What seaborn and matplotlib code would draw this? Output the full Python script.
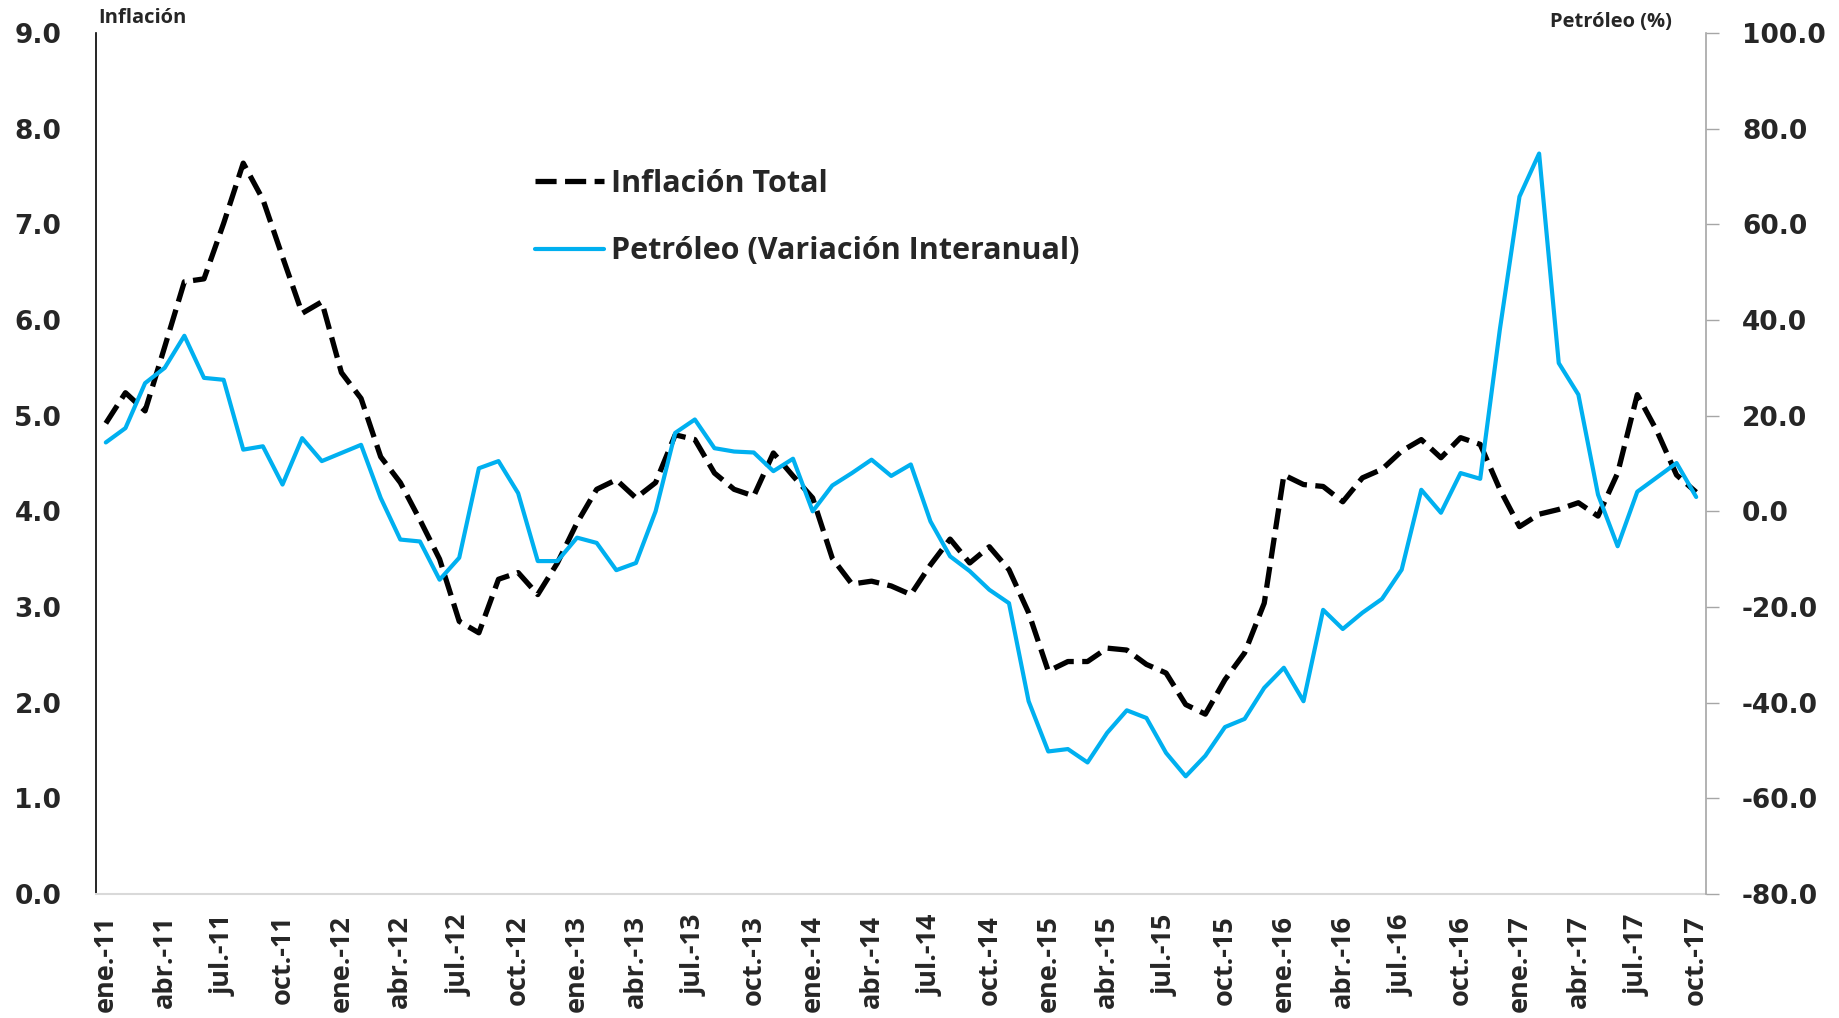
import matplotlib
matplotlib.use("Agg")
import matplotlib.pyplot as plt
import seaborn as sns
import pandas as pd
from matplotlib.lines import Line2D

# meses ene-11 .. oct-17 (82 observaciones)
mes_abrev = ["ene.", "feb.", "mar.", "abr.", "may.", "jun.",
             "jul.", "ago.", "sep.", "oct.", "nov.", "dic."]
anios = ["11", "12", "13", "14", "15", "16", "17"]
meses = [f"{m}-{a}" for a in anios for m in mes_abrev][:82]

inflacion = [4.92, 5.24, 5.05, 5.72, 6.40, 6.43, 7.01, 7.64, 7.26, 6.66,
             6.07, 6.19, 5.45, 5.18, 4.57, 4.30, 3.91, 3.50, 2.85, 2.73,
             3.29, 3.36, 3.13, 3.46, 3.88, 4.23, 4.33, 4.14, 4.30, 4.80,
             4.75, 4.40, 4.23, 4.16, 4.61, 4.37, 4.14, 3.51, 3.24, 3.27,
             3.22, 3.13, 3.44, 3.71, 3.46, 3.63, 3.39, 2.94, 2.33, 2.43,
             2.43, 2.57, 2.55, 2.40, 2.31, 1.98, 1.88, 2.24, 2.52, 3.04,
             4.38, 4.28, 4.26, 4.10, 4.35, 4.44, 4.63, 4.75, 4.56, 4.77,
             4.70, 4.23, 3.84, 3.97, 4.02, 4.09, 3.95, 4.40, 5.22, 4.84,
             4.38, 4.20]

petroleo = [14.4, 17.4, 26.8, 30.0, 36.7, 27.9, 27.5, 12.9, 13.6, 5.6,
            15.3, 10.5, 12.2, 13.9, 2.8, -5.9, -6.3, -14.3, -9.7, 9.0,
            10.5, 3.8, -10.4, -10.4, -5.5, -6.6, -12.3, -10.8, 0.0, 16.4,
            19.2, 13.2, 12.5, 12.3, 8.4, 11.0, 0.0, 5.4, 8.0, 10.8,
            7.4, 9.8, -2.1, -9.4, -12.5, -16.4, -19.2, -39.7, -50.2, -49.7,
            -52.5, -46.3, -41.6, -43.2, -50.5, -55.4, -51.1, -45.1, -43.4, -36.9,
            -32.7, -39.7, -20.6, -24.6, -21.2, -18.3, -12.2, 4.5, -0.3, 8.0,
            6.8, 38.0, 65.8, 74.8, 31.0, 24.4, 3.5, -7.3, 4.1, 7.1,
            10.1, 3.0]

ticks_izq = [0, 1, 2, 3, 4, 5, 6, 7, 8, 9]
ticks_der = [-80, -60, -40, -20, 0, 20, 40, 60, 80, 100]

AZUL = "#00B0F0"
DASH = (0, (4, 1.6))

df = pd.DataFrame({"idx": range(len(meses)), "mes": meses,
                   "inflacion": inflacion, "petroleo": petroleo})

sns.set_style("white")
plt.rcParams["font.family"] = ["DejaVu Sans"]

fig = plt.figure(figsize=(18.39, 10.18), dpi=100)
ax = fig.add_axes([96 / 1839, 1 - 894 / 1018, (1706 - 96) / 1839, (894 - 33) / 1018])
ax2 = ax.twinx()

sns.lineplot(data=df, x="idx", y="inflacion", ax=ax, color="black",
             linewidth=3.8, linestyle=DASH, dash_capstyle="butt", legend=False)
sns.lineplot(data=df, x="idx", y="petroleo", ax=ax2, color=AZUL,
             linewidth=3.0, legend=False)

ax.set_xlim(-0.5, len(meses) - 0.5)
ax.set_ylim(0, 9)
ax2.set_ylim(-80, 100)

ax.set_xticks(df["idx"][::3])
ax.set_xticklabels(df["mes"][::3], rotation=90, fontfamily="Open Sans",
                   fontweight="bold", fontsize=19.5)
ax.set_yticks(ticks_izq)
ax.set_yticklabels([f"{v:.1f}" for v in ticks_izq], fontweight="bold", fontsize=19)
ax2.set_yticks(ticks_der)
ax2.set_yticklabels([f"{v:.1f}" for v in ticks_der], fontweight="bold", fontsize=19)

ax.tick_params(axis="x", length=0, pad=15)
ax.tick_params(axis="y", length=0, pad=25)
ax2.tick_params(axis="y", length=9, width=1, color="#a6a6a6", direction="out", pad=17)

ax.set_xlabel("")
ax.set_ylabel("")
ax2.set_ylabel("")

for s in ["top", "right"]:
    ax.spines[s].set_visible(False)
ax.spines["left"].set_color("black")
ax.spines["left"].set_linewidth(1.2)
ax.spines["bottom"].set_color("#d9d9d9")
ax.spines["bottom"].set_linewidth(1.5)
for s in ["top", "left", "bottom"]:
    ax2.spines[s].set_visible(False)
ax2.spines["right"].set_color("#a6a6a6")
ax2.spines["right"].set_linewidth(1.2)

fig.text(98 / 1839, 1 - 18 / 1018, "Inflación", ha="left", va="center",
         fontfamily="Open Sans", fontweight="bold", fontsize=14.5)
fig.text(1672 / 1839, 1 - 22 / 1018, "Petróleo (%)", ha="right", va="center",
         fontfamily="Open Sans", fontweight="bold", fontsize=14.5)

handles = [Line2D([], [], color="black", linewidth=3.8, linestyle=DASH,
                  dash_capstyle="butt"),
           Line2D([], [], color=AZUL, linewidth=3.0)]
ax2.legend(handles, ["Inflación Total", "Petróleo (Variación Interanual)"],
           loc="upper left", bbox_to_anchor=(535 / 1839, 1 - 169 / 1018),
           bbox_transform=fig.transFigure, frameon=False, borderpad=0,
           borderaxespad=0, handlelength=2.25, handletextpad=0.25,
           labelspacing=1.22,
           prop={"family": "Open Sans", "weight": "bold", "size": 22})

fig.savefig("out.png", dpi=100)
